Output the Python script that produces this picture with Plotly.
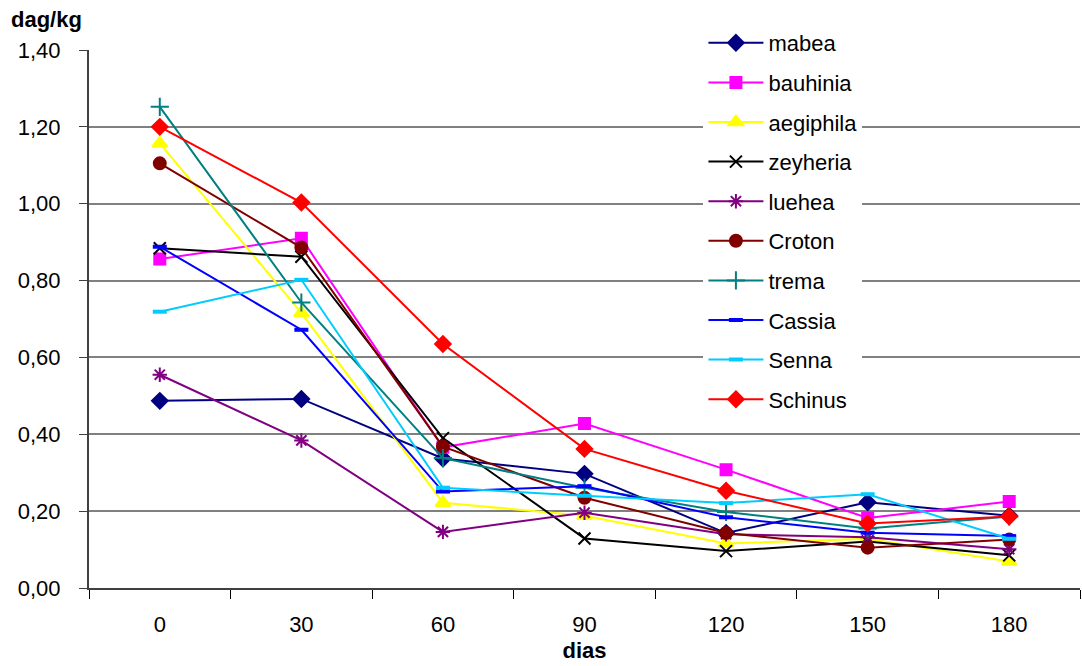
import plotly.graph_objects as go

# Sampling days (categories on the x axis)
dias = ["0", "30", "60", "90", "120", "150", "180"]

# dag/kg per species over time
mabea     = [0.487, 0.492, 0.337, 0.297, 0.143, 0.223, 0.188]
bauhinia  = [0.856, 0.910, 0.366, 0.428, 0.308, 0.182, 0.225]
aegiphila = [1.157, 0.716, 0.222, 0.188, 0.116, 0.128, 0.069]
zeyheria  = [0.884, 0.862, 0.390, 0.129, 0.096, 0.121, 0.085]
luehea    = [0.555, 0.384, 0.146, 0.196, 0.140, 0.132, 0.101]
croton    = [1.105, 0.886, 0.368, 0.235, 0.143, 0.105, 0.126]
trema     = [1.252, 0.743, 0.338, 0.261, 0.198, 0.155, 0.186]
cassia    = [0.888, 0.672, 0.251, 0.265, 0.184, 0.144, 0.135]
senna     = [0.719, 0.802, 0.261, 0.240, 0.221, 0.244, 0.128]
schinus   = [1.200, 1.003, 0.635, 0.362, 0.253, 0.168, 0.186]

y_ticks = [0, 0.2, 0.4, 0.6, 0.8, 1.0, 1.2, 1.4]

series = [
    ("mabea", mabea, "#000080", "diamond", 12),
    ("bauhinia", bauhinia, "#FF00FF", "square", 11),
    ("aegiphila", aegiphila, "#FFFF00", "triangle-up", 13),
    ("zeyheria", zeyheria, "#000000", "x-thin-open", 12),
    ("luehea", luehea, "#800080", "asterisk-open", 12),
    ("Croton", croton, "#800000", "circle", 12),
    ("trema", trema, "#008080", "cross-thin-open", 13),
    ("Cassia", cassia, "#0000FF", "line-ew-open", 10),
    ("Senna", senna, "#00CCFF", "line-ew-open", 10),
    ("Schinus", schinus, "#FF0000", "diamond", 12),
]

fig = go.Figure()
for name, vals, color, sym, size in series:
    mline = dict(color=color, width=2)
    if sym == "line-ew-open":
        mline = dict(color=color, width=4)
    fig.add_trace(go.Scatter(
        x=dias, y=vals, name=name, mode="lines+markers",
        legendgroup=name,
        line=dict(color=color, width=2),
        marker=dict(symbol=sym, size=size, color=color, line=mline),
    ))

grid_color = "#808080"
fig.update_layout(
    width=1082, height=666,
    margin=dict(l=89, r=2, t=50, b=78),
    paper_bgcolor="white", plot_bgcolor="white",
    separators=",.",
    font=dict(family="Liberation Sans, Arial, sans-serif", color="black", size=22),
    showlegend=True,
    legend=dict(
        x=0.62, y=1.052, xanchor="left", yanchor="top",
        bgcolor="white", borderwidth=0,
        font=dict(size=22),
        itemwidth=55,
        tracegroupgap=8,
        maxheight=640,
    ),
    xaxis=dict(
        type="category", range=[-0.5, 6.5], autorange=False,
        tickson="boundaries", ticks="outside", ticklen=9,
        tickcolor="black", showline=True, linecolor="#404040", linewidth=2,
        showgrid=False, tickfont=dict(size=22), ticklabelstandoff=16,
        title=dict(text="<b>dias</b>", font=dict(size=22), standoff=6),
    ),
    yaxis=dict(
        range=[0, 1.4], tickvals=y_ticks, tickformat=".2f",
        ticks="outside", ticklen=8, tickcolor="#404040",
        showline=True, linecolor="#404040", linewidth=2,
        showgrid=True, gridcolor=grid_color, gridwidth=2,
        zeroline=False, tickfont=dict(size=22), ticklabelstandoff=14,
    ),
    annotations=[dict(
        text="<b>dag/kg</b>", xref="paper", yref="paper",
        x=-80 / 991, y=1 + 30 / 538,
        xanchor="left", yanchor="middle",
        showarrow=False, font=dict(size=22),
    )],
)

fig.write_html("out.html")
